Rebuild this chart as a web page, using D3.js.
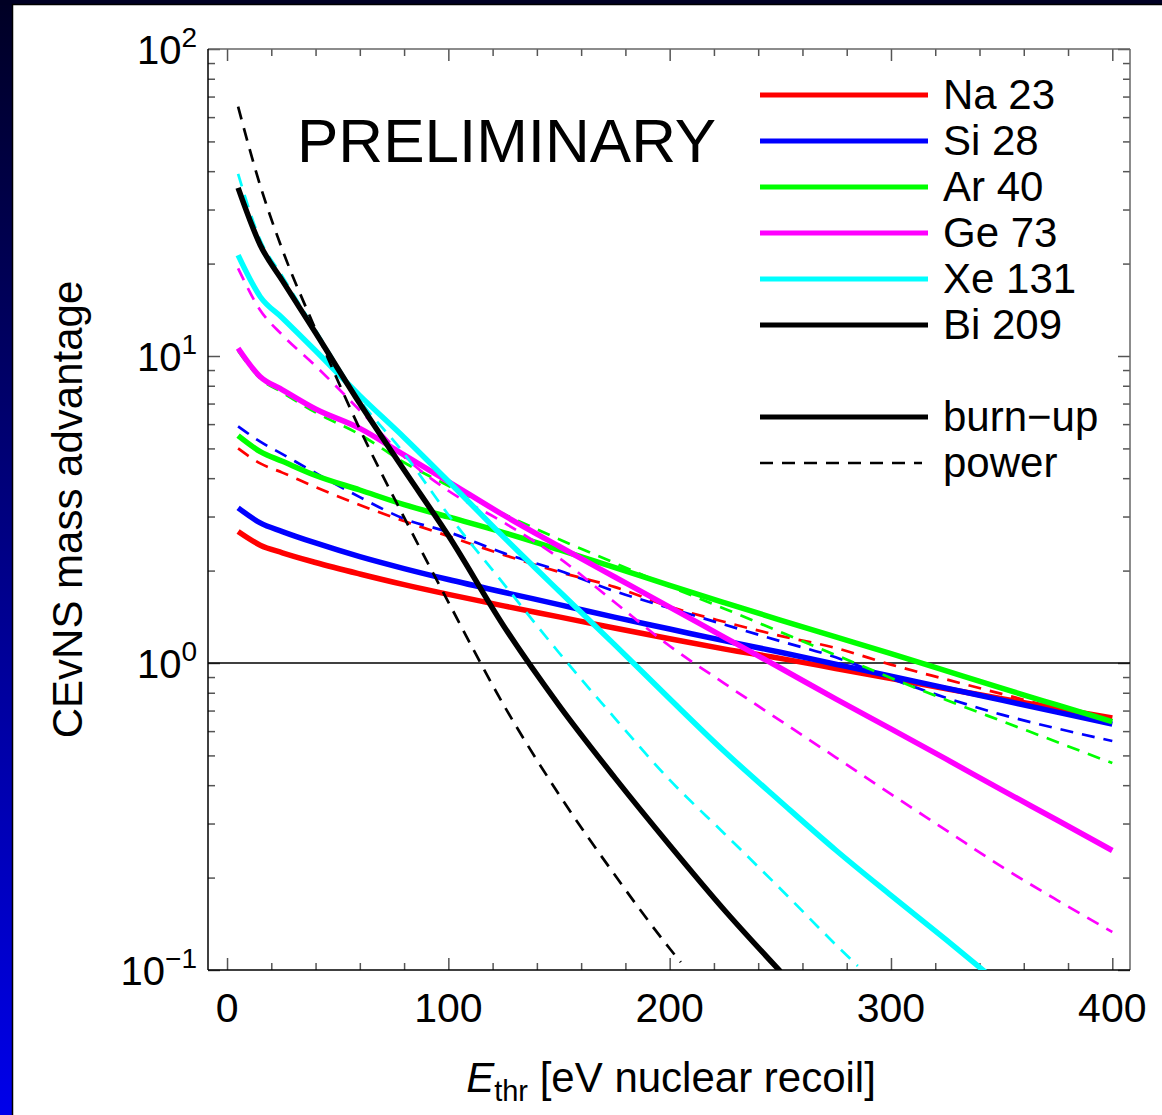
<!DOCTYPE html>
<html>
<head>
<meta charset="utf-8">
<script src="https://cdn.jsdelivr.net/npm/d3@7"></script>
<style>
  html, body { margin: 0; padding: 0; background: #fff; }
  svg { display: block; font-family: "Liberation Sans", Arial, Helvetica, sans-serif; }
</style>
</head>
<body>
<svg id="chart" width="1162" height="1115"></svg>
<script>
// threshold energies [eV nuclear recoil]
const energies = [5, 15, 25, 40, 60, 80, 100, 125, 150, 175, 200, 225, 250, 275, 300, 325, 350, 375, 400];
const xeBurnE  = [5, 15, 25, 40, 60, 80, 100, 125, 150, 175, 200, 225, 250, 275, 300, 325, 350];
const biBurnE  = [5, 15, 25, 40, 60, 80, 100, 125, 150, 175, 200, 225, 250];
const xePowerE = [5, 15, 25, 40, 60, 80, 100, 125, 150, 175, 200, 225, 250, 275, 285];
const biPowerE = [5, 15, 25, 40, 60, 80, 100, 125, 150, 175, 200, 205];

// mass advantage, burn-up (solid)
const naBurn = [2.68, 2.42, 2.285, 2.125, 1.95, 1.80, 1.673, 1.535, 1.413, 1.30, 1.20, 1.11, 1.035, 0.96, 0.89, 0.824, 0.765, 0.711, 0.662];
const siBurn = [3.20, 2.86, 2.68, 2.46, 2.22, 2.03, 1.87, 1.70, 1.55, 1.41, 1.29, 1.18, 1.084, 0.991, 0.906, 0.828, 0.757, 0.692, 0.632];
const arBurn = [5.5, 4.88, 4.54, 4.08, 3.66, 3.28, 2.99, 2.66, 2.34, 2.05, 1.79, 1.57, 1.38, 1.216, 1.072, 0.942, 0.828, 0.730, 0.644];
const geBurn = [10.6, 8.56, 7.76, 6.72, 5.81, 4.76, 3.90, 3.03, 2.40, 1.91, 1.52, 1.21, 0.963, 0.764, 0.610, 0.486, 0.386, 0.308, 0.245];
const xeBurn = [21.3, 15.6, 13.3, 10.4, 7.43, 5.43, 3.91, 2.57, 1.715, 1.15, 0.765, 0.513, 0.354, 0.246, 0.175, 0.1254, 0.089];
const biBurn = [35.3, 23.0, 17.6, 11.9, 7.0, 4.25, 2.6, 1.32, 0.728, 0.425, 0.255, 0.156, 0.099];

// mass advantage, power (dashed)
const naPower = [5.0, 4.47, 4.17, 3.74, 3.27, 2.90, 2.59, 2.25, 1.98, 1.77, 1.526, 1.36, 1.226, 1.119, 0.988, 0.884, 0.793, 0.711, 0.637];
const siPower = [5.9, 5.26, 4.79, 4.16, 3.47, 2.95, 2.67, 2.28, 2.00, 1.715, 1.51, 1.332, 1.178, 1.044, 0.890, 0.770, 0.679, 0.612, 0.557];
const arPower = [10.4, 8.45, 7.6, 6.55, 5.55, 4.5, 3.78, 3.06, 2.53, 2.12, 1.775, 1.50, 1.262, 1.062, 0.894, 0.758, 0.647, 0.553, 0.472];
const gePower = [19.3, 14.1, 11.7, 9.28, 6.65, 4.7, 3.64, 2.87, 2.2, 1.58, 1.136, 0.855, 0.649, 0.493, 0.374, 0.285, 0.217, 0.169, 0.133];
const xePower = [39.2, 23.9, 18.2, 12.15, 7.19, 4.81, 3.04, 1.81, 1.08, 0.664, 0.416, 0.277, 0.184, 0.121, 0.103];
const biPower = [64.9, 35.9, 22.2, 12.2, 5.78, 2.98, 1.58, 0.73, 0.373, 0.205, 0.1175, 0.106];

const isotopes = ["Na 23", "Si 28", "Ar 40", "Ge 73", "Xe 131", "Bi 209"];
const colors = ["#ff0000", "#0000ff", "#00ff00", "#ff00ff", "#00ffff", "#000000"];

const xMajor = [0, 100, 200, 300, 400];
const xMinor = d3.range(20, 400, 20).filter(v => v % 100 !== 0);
const yMajor = [0.1, 1, 10, 100];
const yMinor = [0.1, 1, 10].flatMap(d => d3.range(2, 10).map(k => d * k));
const yExp = {0.1: "\u22121", 1: "0", 10: "1", 100: "2"};

const series = [
  {burnE: energies, burn: naBurn, powerE: energies, power: naPower},
  {burnE: energies, burn: siBurn, powerE: energies, power: siPower},
  {burnE: energies, burn: arBurn, powerE: energies, power: arPower},
  {burnE: energies, burn: geBurn, powerE: energies, power: gePower},
  {burnE: xeBurnE,  burn: xeBurn, powerE: xePowerE, power: xePower},
  {burnE: biBurnE,  burn: biBurn, powerE: biPowerE, power: biPower}
].map((s, i) => ({...s, name: isotopes[i], color: colors[i]}));

const svg = d3.select("#chart");
const W = 1162, H = 1115;
const plotL = 208, plotR = 1130, plotT = 49, plotB = 970;

// slide background
const defs = svg.append("defs");
const grad = defs.append("linearGradient").attr("id", "bg").attr("x1", 0).attr("y1", 0).attr("x2", 0).attr("y2", 1);
grad.append("stop").attr("offset", 0).attr("stop-color", "#000024");
grad.append("stop").attr("offset", 1).attr("stop-color", "#0000ea");
svg.append("rect").attr("width", W).attr("height", H).attr("fill", "url(#bg)");
svg.append("rect").attr("x", 0).attr("y", 0).attr("width", W).attr("height", 5).attr("fill", "#000024");
svg.append("rect").attr("x", 12.5).attr("y", 4.5).attr("width", W).attr("height", H)
  .attr("fill", "#fff").attr("stroke", "#000").attr("stroke-width", 1.5);

defs.append("clipPath").attr("id", "plotclip").append("rect")
  .attr("x", plotL).attr("y", plotT).attr("width", plotR - plotL).attr("height", plotB - plotT);

// scales
const x = d3.scaleLinear().domain([-8.6, 408]).range([plotL, plotR]);
const y = d3.scaleLog().domain([0.1, 100]).range([plotB, plotT]);

// frame ticks (inside, all four sides)
function tickAxis(axis, tx, ty, values, size) {
  const g = svg.append("g").attr("transform", `translate(${tx},${ty})`)
    .call(axis.tickValues(values).tickSize(-size).tickFormat(""));
  g.select(".domain").remove();
  g.selectAll(".tick line").attr("stroke", "#555").attr("stroke-width", 1.5);
  return g;
}
tickAxis(d3.axisBottom(x), 0, plotB, xMajor, 12);
tickAxis(d3.axisBottom(x), 0, plotB, xMinor, 7);
tickAxis(d3.axisTop(x), 0, plotT, xMajor, 12);
tickAxis(d3.axisTop(x), 0, plotT, xMinor, 7);
tickAxis(d3.axisLeft(y), plotL, 0, yMajor, 12);
tickAxis(d3.axisLeft(y), plotL, 0, yMinor, 7);
tickAxis(d3.axisRight(y), plotR, 0, yMajor, 12);
tickAxis(d3.axisRight(y), plotR, 0, yMinor, 7);

// frame
svg.append("line").attr("x1", plotL).attr("x2", plotR).attr("y1", plotT).attr("y2", plotT).attr("stroke", "#666").attr("stroke-width", 1.5);
svg.append("line").attr("x1", plotR).attr("x2", plotR).attr("y1", plotT).attr("y2", plotB).attr("stroke", "#666").attr("stroke-width", 1.5);
svg.append("line").attr("x1", plotL).attr("x2", plotR).attr("y1", plotB).attr("y2", plotB).attr("stroke", "#000").attr("stroke-width", 1.5);
svg.append("line").attr("x1", plotL).attr("x2", plotL).attr("y1", plotT).attr("y2", plotB).attr("stroke", "#000").attr("stroke-width", 1.5);

// x tick labels
svg.append("g").selectAll("text").data(xMajor).join("text")
  .attr("x", d => x(d)).attr("y", plotB + 52)
  .attr("text-anchor", "middle").attr("font-size", 41)
  .text(d => d);

// y tick labels 10^n
const yl = svg.append("g").selectAll("text").data(yMajor).join("text")
  .attr("x", 197).attr("y", d => y(d) + 15)
  .attr("text-anchor", "end").attr("font-size", 40);
yl.append("tspan").text("10");
yl.append("tspan").attr("font-size", 28).attr("dy", -17).text(d => yExp[d]);

// unity line
svg.append("line").attr("x1", plotL).attr("x2", plotR).attr("y1", y(1)).attr("y2", y(1))
  .attr("stroke", "#000").attr("stroke-width", 1.5);

// curves: burn-up (solid) then power (dashed), isotope by isotope
const line = d3.line().x(d => x(d[0])).y(d => y(d[1])).curve(d3.curveMonotoneX);
const curves = svg.append("g").attr("clip-path", "url(#plotclip)");

const pair = curves.selectAll("g").data(series).join("g");
pair.append("path")
  .attr("d", s => line(s.burnE.map((e, i) => [e, s.burn[i]])))
  .attr("fill", "none").attr("stroke", s => s.color).attr("stroke-width", 5.5);
pair.append("path")
  .attr("d", s => line(s.powerE.map((e, i) => [e, s.power[i]])))
  .attr("fill", "none").attr("stroke", s => s.color).attr("stroke-width", 2.7)
  .attr("stroke-dasharray", "13,9");

// PRELIMINARY
svg.append("text").attr("x", 297).attr("y", 162).attr("font-size", 62).text("PRELIMINARY");

// legend
const legend = svg.append("g");
const rowY = (i) => 95 + i * 46;
const lg = legend.selectAll("g").data(series).join("g")
  .attr("transform", (d, i) => `translate(0,${rowY(i)})`);
lg.append("line").attr("x1", 760).attr("x2", 928)
  .attr("stroke", d => d.color).attr("stroke-width", 5);
lg.append("text").attr("x", 943).attr("y", 14).attr("font-size", 42).text(d => d.name);

const styleRows = [
  {label: "burn-up", dash: null, width: 5, end: 928},
  {label: "power", dash: "13,9", width: 2.7, end: 922}
];
const sg = legend.selectAll("g.style").data(styleRows).join("g").attr("class", "style")
  .attr("transform", (d, i) => `translate(0,${rowY(7 + i)})`);
sg.append("line").attr("x1", 760).attr("x2", d => d.end)
  .attr("stroke", "#000").attr("stroke-width", d => d.width)
  .attr("stroke-dasharray", d => d.dash);
sg.append("text").attr("x", 943).attr("y", 14).attr("font-size", 42)
  .text(d => d.label.replace("-", "\u2212"));

// axis titles
const xt = svg.append("text").attr("x", (plotL + plotR) / 2 + 2).attr("y", 1092)
  .attr("text-anchor", "middle").attr("font-size", 42);
xt.append("tspan").attr("font-style", "italic").text("E");
xt.append("tspan").attr("font-size", 29).attr("dy", 9).text("thr");
xt.append("tspan").attr("dy", -9).text(" [eV nuclear recoil]");

svg.append("text")
  .attr("transform", `translate(82,${(plotT + plotB) / 2}) rotate(-90)`)
  .attr("text-anchor", "middle").attr("font-size", 42)
  .text("CEvNS mass advantage");
</script>
</body>
</html>
